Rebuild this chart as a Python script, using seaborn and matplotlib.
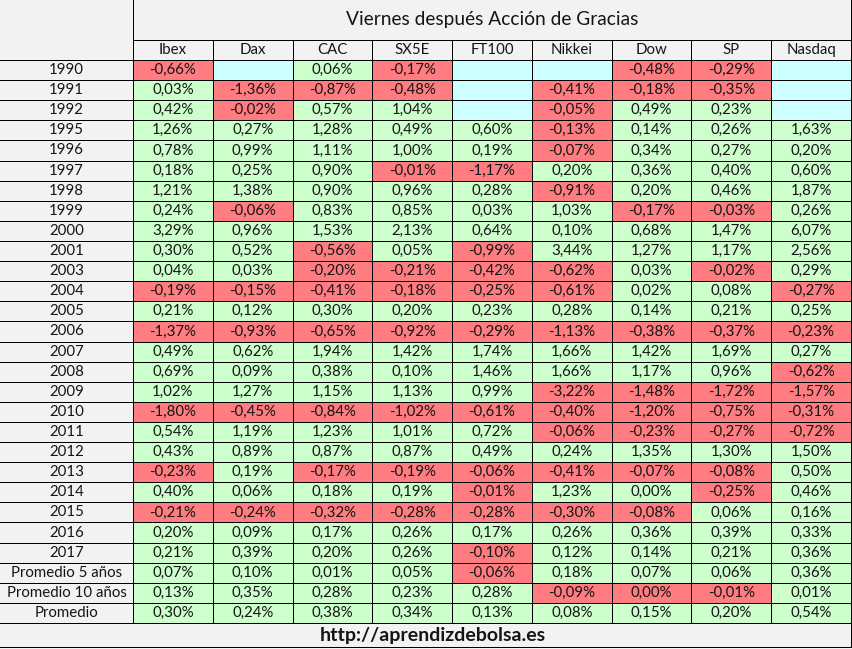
# Tabla: Viernes después Acción de Gracias
import numpy as np
import pandas as pd
import matplotlib.pyplot as plt
from matplotlib.colors import ListedColormap
import seaborn as sns

# Datos (% de variación)
filas = ['1990', '1991', '1992', '1995', '1996', '1997', '1998', '1999', '2000',
         '2001', '2003', '2004', '2005', '2006', '2007', '2008', '2009', '2010',
         '2011', '2012', '2013', '2014', '2015', '2016', '2017',
         'Promedio 5 años', 'Promedio 10 años', 'Promedio']
indices = ['Ibex', 'Dax', 'CAC', 'SX5E', 'FT100', 'Nikkei', 'Dow', 'SP', 'Nasdaq']

ibex = [-0.66, 0.03, 0.42, 1.26, 0.78, 0.18, 1.21, 0.24, 3.29, 0.30, 0.04, -0.19, 0.21,
        -1.37, 0.49, 0.69, 1.02, -1.80, 0.54, 0.43, -0.23, 0.40, -0.21, 0.20, 0.21,
        0.07, 0.13, 0.30]
dax = [np.nan, -1.36, -0.02, 0.27, 0.99, 0.25, 1.38, -0.06, 0.96, 0.52, 0.03, -0.15, 0.12,
       -0.93, 0.62, 0.09, 1.27, -0.45, 1.19, 0.89, 0.19, 0.06, -0.24, 0.09, 0.39,
       0.10, 0.35, 0.24]
cac = [0.06, -0.87, 0.57, 1.28, 1.11, 0.90, 0.90, 0.83, 1.53, -0.56, -0.20, -0.41, 0.30,
       -0.65, 1.94, 0.38, 1.15, -0.84, 1.23, 0.87, -0.17, 0.18, -0.32, 0.17, 0.20,
       0.01, 0.28, 0.38]
sx5e = [-0.17, -0.48, 1.04, 0.49, 1.00, -0.01, 0.96, 0.85, 2.13, 0.05, -0.21, -0.18, 0.20,
        -0.92, 1.42, 0.10, 1.13, -1.02, 1.01, 0.87, -0.19, 0.19, -0.28, 0.26, 0.26,
        0.05, 0.23, 0.34]
ft100 = [np.nan, np.nan, np.nan, 0.60, 0.19, -1.17, 0.28, 0.03, 0.64, -0.99, -0.42, -0.25, 0.23,
         -0.29, 1.74, 1.46, 0.99, -0.61, 0.72, 0.49, -0.06, -0.01, -0.28, 0.17, -0.10,
         -0.06, 0.28, 0.13]
nikkei = [np.nan, -0.41, -0.05, -0.13, -0.07, 0.20, -0.91, 1.03, 0.10, 3.44, -0.62, -0.61, 0.28,
          -1.13, 1.66, 1.66, -3.22, -0.40, -0.06, 0.24, -0.41, 1.23, -0.30, 0.26, 0.12,
          0.18, -0.09, 0.08]
dow = [-0.48, -0.18, 0.49, 0.14, 0.34, 0.36, 0.20, -0.17, 0.68, 1.27, 0.03, 0.02, 0.14,
       -0.38, 1.42, 1.17, -1.48, -1.20, -0.23, 1.35, -0.07, 0.00, -0.08, 0.36, 0.14,
       0.07, -0.00, 0.15]
sp = [-0.29, -0.35, 0.23, 0.26, 0.27, 0.40, 0.46, -0.03, 1.47, 1.17, -0.02, 0.08, 0.21,
      -0.37, 1.69, 0.96, -1.72, -0.75, -0.27, 1.30, -0.08, -0.25, 0.06, 0.39, 0.21,
      0.06, -0.01, 0.20]
nasdaq = [np.nan, np.nan, np.nan, 1.63, 0.20, 0.60, 1.87, 0.26, 6.07, 2.56, 0.29, -0.27, 0.25,
          -0.23, 0.27, -0.62, -1.57, -0.31, -0.72, 1.50, 0.50, 0.46, 0.16, 0.33, 0.36,
          0.36, 0.01, 0.54]

titulo = 'Viernes después Acción de Gracias'
pie = 'http://aprendizdebolsa.es'

df = pd.DataFrame({'Ibex': ibex, 'Dax': dax, 'CAC': cac, 'SX5E': sx5e, 'FT100': ft100,
                   'Nikkei': nikkei, 'Dow': dow, 'SP': sp, 'Nasdaq': nasdaq}, index=filas)

# 0 = negativo (rojo), 1 = positivo (verde), 2 = sin dato (celeste)
vals = df.to_numpy(dtype=float)
codigo = np.where(np.isnan(vals), 2, np.where(np.signbit(vals), 0, 1))
etiquetas = np.where(np.isnan(vals), '',
                     np.vectorize(lambda v: f'{v + 0.0:.2f}%'.replace('.', ','))(vals))

ROJO, VERDE, CELESTE, GRIS = '#FF7C80', '#CCFFCC', '#CCFFFF', '#F2F2F2'
TEXTO = '#151515'
FUENTE = 'Lato'

# layout en pixeles
W, H = 852, 649
x0, x1 = 133, 851
y_tit, y_cab, y_dat, y_fin, y_pie = 0, 40, 60, 623, 647

fig = plt.figure(figsize=(W / 100, H / 100), dpi=100, facecolor=GRIS)
plt.rcParams['font.family'] = [FUENTE, 'DejaVu Sans']

ax = fig.add_axes([x0 / W, (H - y_fin) / H, (x1 - x0) / W, (y_fin - y_dat) / H])
sns.heatmap(pd.DataFrame(codigo, index=filas, columns=indices), ax=ax,
            cmap=ListedColormap([ROJO, VERDE, CELESTE]), vmin=-0.5, vmax=2.5,
            cbar=False, annot=etiquetas, fmt='',
            annot_kws={'fontsize': 10.8, 'color': TEXTO, 'family': FUENTE},
            linewidths=0.55, linecolor='black')

ax.xaxis.tick_top()
ax.set_xticklabels(indices, rotation=0, fontsize=10.8, color=TEXTO, va='center')
ax.tick_params(axis='x', length=0, pad=7.2)
ax.set_yticklabels(filas, rotation=0, fontsize=10.8, color=TEXTO, ha='center')
ax.tick_params(axis='y', length=0, pad=(x0 / 2) * 0.72)
ax.set_xlabel('')
ax.set_ylabel('')

# bordes de la tabla
bg = fig.add_axes([0, 0, 1, 1], zorder=3)
bg.set_xlim(0, W)
bg.set_ylim(H, 0)
bg.axis('off')
bg.patch.set_visible(False)
kw = dict(color='black', lw=0.72)
bg.plot([x0, x0], [y_tit, y_fin], **kw)
bg.plot([x1, x1], [y_tit, y_pie], **kw)
bg.plot([x0, x1], [y_cab, y_cab], **kw)
bg.plot([0, x1], [y_dat, y_dat], **kw)
bg.plot([0, x1], [y_fin, y_fin], **kw)
bg.plot([0, x1], [y_pie, y_pie], **kw)
ancho = (x1 - x0) / len(indices)
for j in range(1, len(indices)):
    bg.plot([x0 + j * ancho] * 2, [y_cab, y_dat], **kw)
alto = (y_fin - y_dat) / len(filas)
for i in range(1, len(filas)):
    bg.plot([0, x0], [y_dat + i * alto] * 2, **kw)

bg.text((x0 + x1) / 2, (y_tit + y_cab) / 2, titulo, ha='center', va='center',
        fontsize=13.8, color=TEXTO)
bg.text(W / 2 + 7, (y_fin + y_pie) / 2, pie, ha='center', va='center',
        fontsize=14, fontweight='bold', color=TEXTO)

fig.savefig('out.png', dpi=100, facecolor=GRIS)
